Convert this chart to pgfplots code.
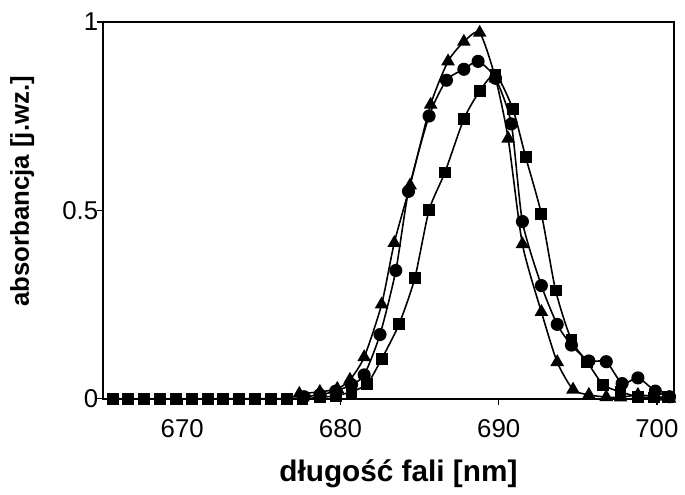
\documentclass[border=0pt]{standalone}
\usepackage{fontspec}
\setmainfont{Liberation Sans}
\usepackage{pgfplots}
\pgfplotsset{compat=1.18}
\begin{document}
\begin{tikzpicture}
\begin{axis}[
  scale only axis, width=288pt, height=190pt,
  xmin=665, xmax=701.1, ymin=0, ymax=1,
  xtick={670,680,690,700}, ytick={0,0.5,1}, yticklabels={0,0.5,1},
  tick align=outside, tick pos=left, major tick length=3pt,
  axis line style={line width=1pt},
  tick style={line width=0.7pt, black},
  ticklabel style={font=\fontsize{13}{15}\selectfont},
  xticklabel style={yshift=-4pt},
  yticklabel style={xshift=4pt},
  /pgf/number format/assume math mode=true,
  xlabel={długość fali [nm]}, ylabel={absorbancja [j.wz.]},
  xlabel style={font=\bfseries\fontsize{15}{17}\selectfont, at={(axis description cs:0.517,-0.22)}, anchor=base},
  ylabel style={font=\bfseries\fontsize{13}{15}\selectfont, at={(axis description cs:-0.13,0.55)}, anchor=base},
  every axis plot/.append style={black, line width=0.8pt, smooth, tension=0.4},
  clip=false,
]
\addplot[mark=triangle*, mark size=3.2pt] coordinates {
(677.4,0.013) (678.7,0.018) (679.8,0.026) (680.6,0.05) (681.5,0.11) (682.6,0.25) (683.4,0.413) (684.4,0.566) (685.7,0.78) (686.8,0.895) (687.8,0.947) (688.8,0.971) (689.8,0.85) (690.6,0.69) (691.5,0.41) (692.7,0.23) (693.7,0.097) (694.7,0.024) (695.7,0.01) (696.8,0.004) (697.7,0.003) (698.8,0.01) (699.9,0.005) (700.8,0.0)
};
\addplot[mark=*, mark size=2.9pt] coordinates {
(677.7,0.005) (678.7,0.01) (679.7,0.02) (680.7,0.037) (681.5,0.063) (682.5,0.17) (683.5,0.34) (684.3,0.55) (685.6,0.75) (686.7,0.845) (687.8,0.874) (688.7,0.895) (689.8,0.85) (690.8,0.729) (691.5,0.47) (692.7,0.30) (693.7,0.197) (694.6,0.142) (695.7,0.10) (696.8,0.098) (697.8,0.04) (698.8,0.055) (699.9,0.02) (700.8,0.005)
};
\addplot[mark=square*, mark size=2.6pt] coordinates {
(665.6,0) (666.6,0) (667.6,0) (668.6,0) (669.6,0) (670.6,0) (671.6,0) (672.6,0) (673.6,0) (674.6,0) (675.6,0) (676.6,0) (677.6,0) (678.7,0.003) (679.7,0.008) (680.7,0.018) (681.7,0.04) (682.6,0.105) (683.7,0.197) (684.7,0.32) (685.6,0.5) (686.6,0.60) (687.8,0.742) (688.8,0.816) (689.8,0.86) (690.9,0.768) (691.7,0.642) (692.7,0.49) (693.6,0.287) (694.6,0.155) (695.6,0.097) (696.6,0.037) (697.7,0.018) (698.8,0.005) (699.8,0.003) (700.7,0.005)
};
\end{axis}
\path ([shift={(-52pt,-42pt)}]current axis.south west) rectangle ([shift={(2.5pt,11pt)}]current axis.north east);
\end{tikzpicture}
\end{document}
